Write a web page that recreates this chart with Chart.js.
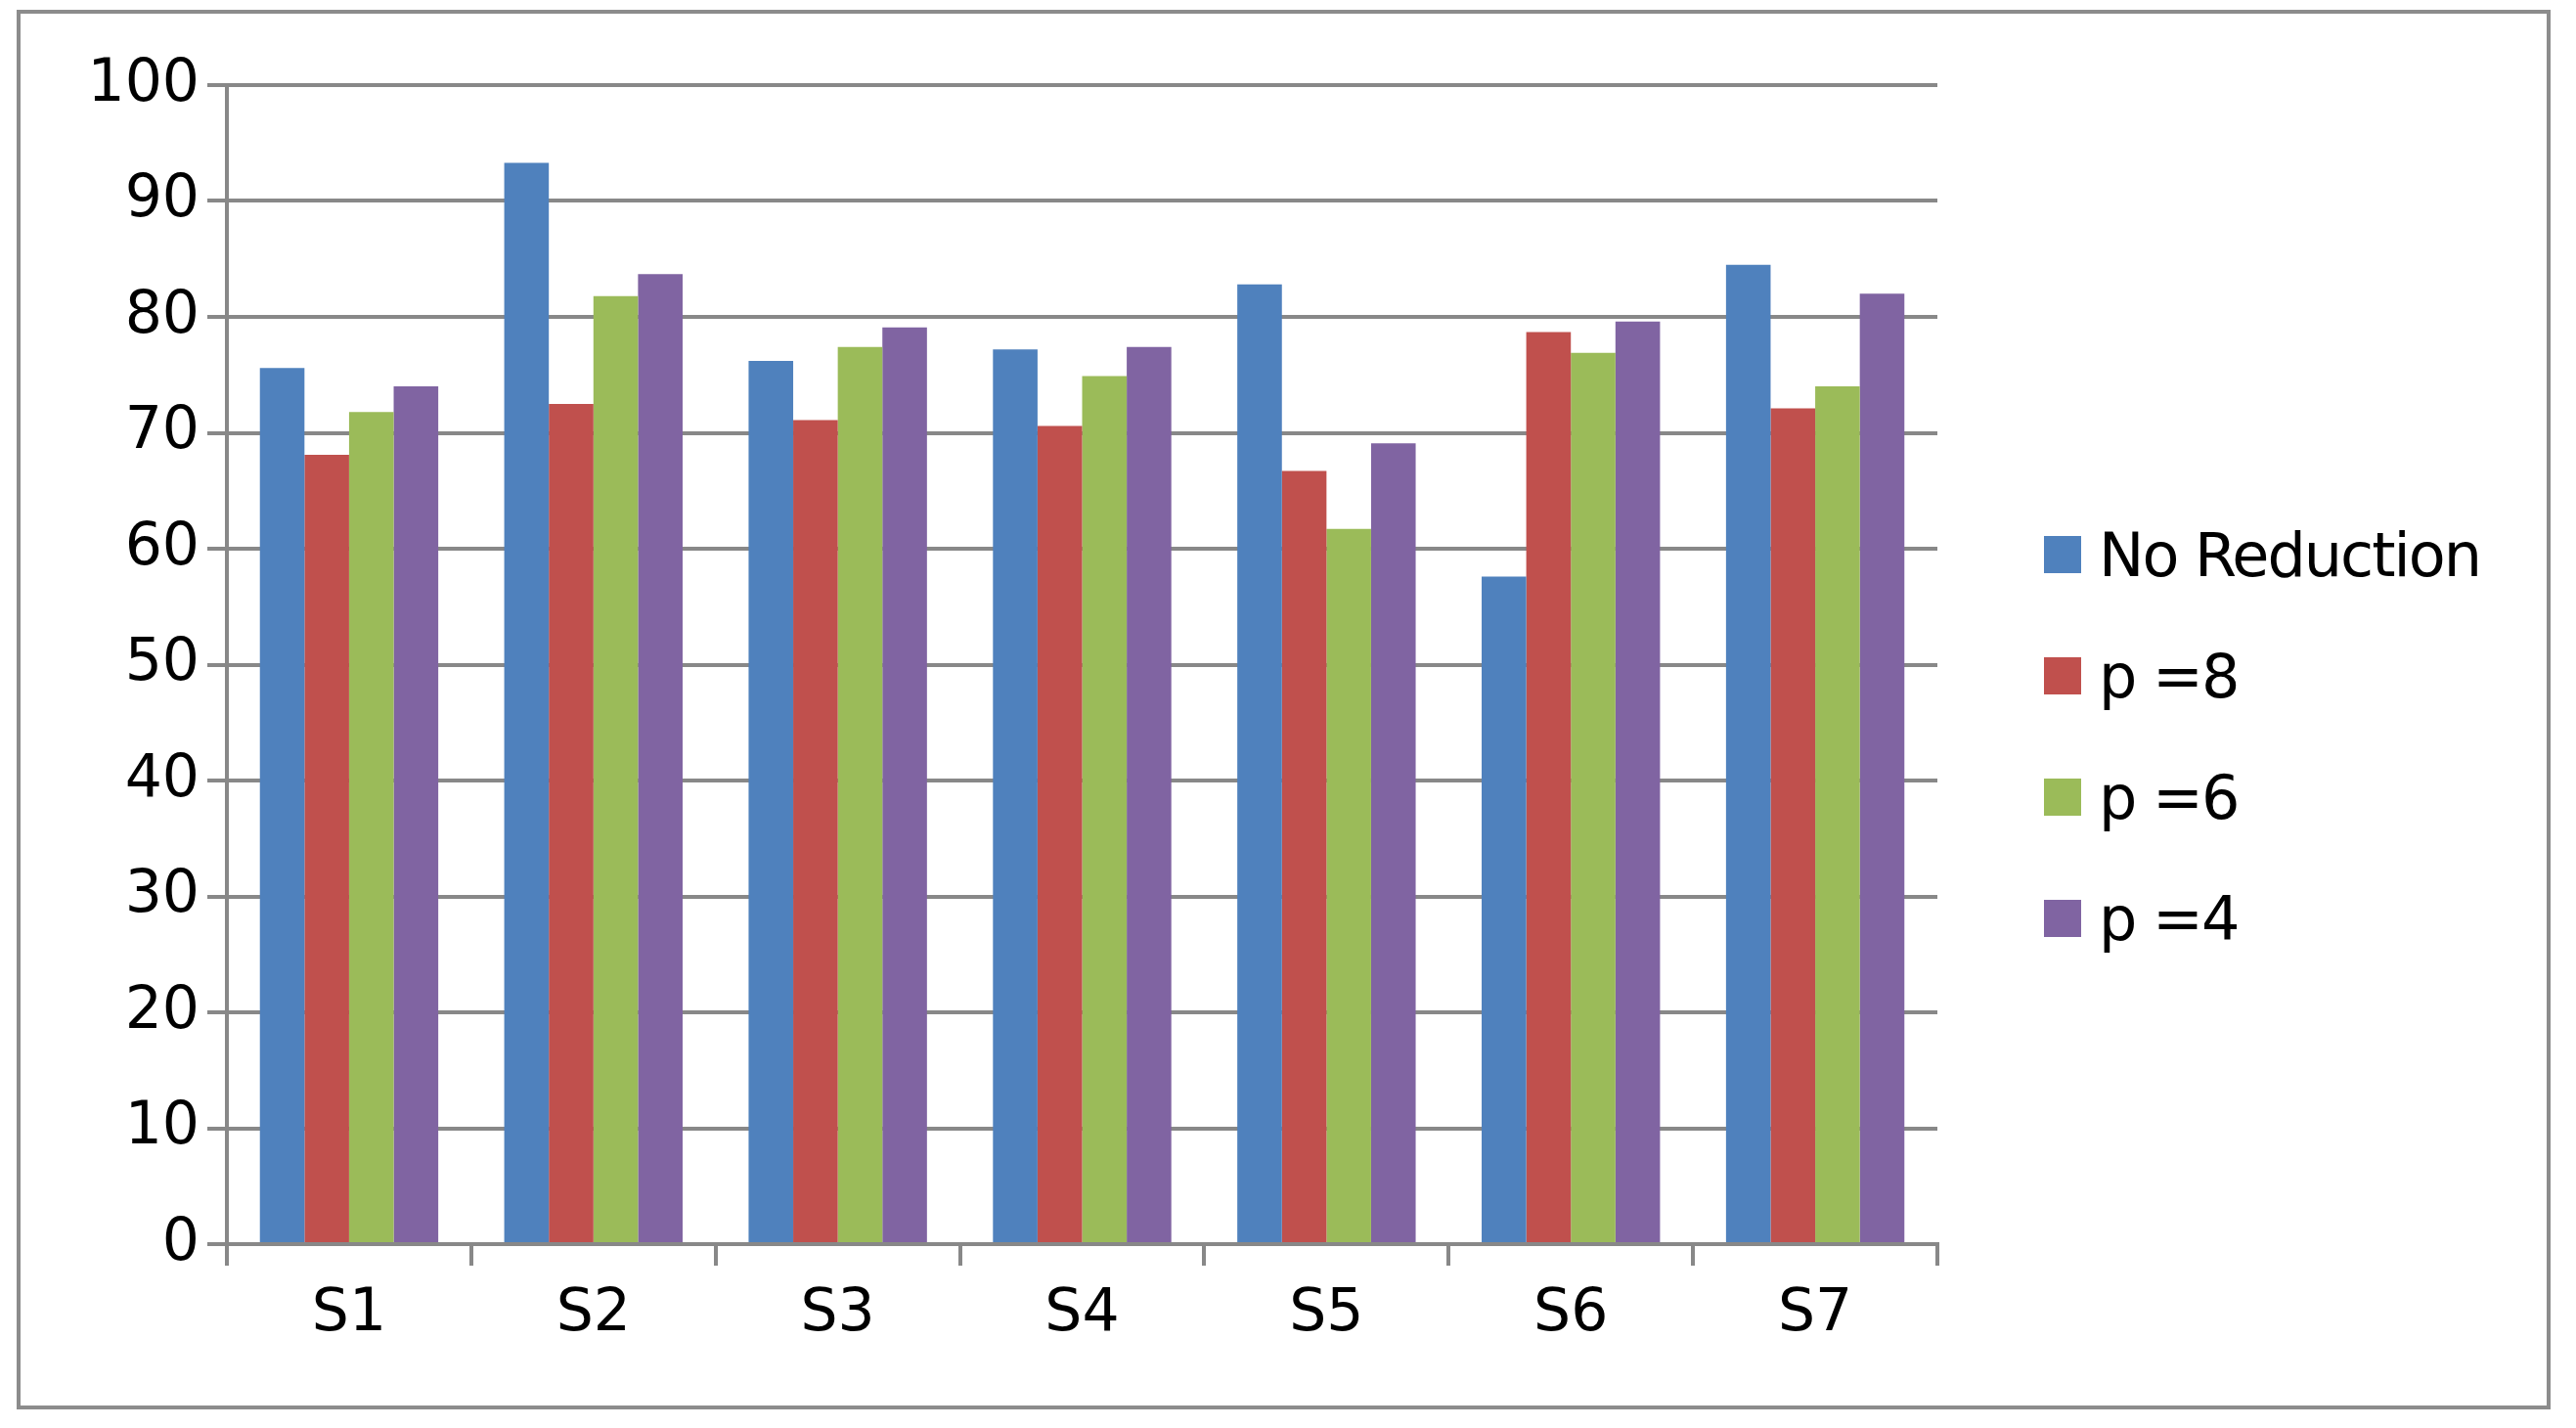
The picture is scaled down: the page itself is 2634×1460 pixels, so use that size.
<!DOCTYPE html>
<html><head><meta charset="utf-8">
<script src="https://cdn.jsdelivr.net/npm/chart.js@4"></script>
<style>
body{margin:0;background:#fff;width:2634px;height:1460px;overflow:hidden;position:relative;font-family:"DejaVu Sans",sans-serif}
#frame{position:absolute;left:17px;top:10px;width:2591px;height:1431px;border:4px solid #8c8c8c;box-sizing:border-box}
canvas{position:absolute;left:0;top:0}
#legend{position:absolute;left:2090px;top:505px}
.it{display:flex;align-items:center;height:124px;font-size:62px;color:#000;letter-spacing:-2px}
.sw{width:38px;height:38px;margin-right:18px}
</style></head><body>
<div id="frame"></div>
<canvas id="c" width="2634" height="1460"></canvas>
<div id="legend"></div>
<script>
const categories=["S1","S2","S3","S4","S5","S6","S7"];
const seriesNames=["No Reduction","p =8","p =6","p =4"];
const noReduction=[75.6,93.3,76.2,77.2,82.8,57.6,84.5];
const p8=[68.1,72.5,71.1,70.6,66.7,78.7,72.1];
const p6=[71.8,81.8,77.4,74.9,61.7,76.9,74.0];
const p4=[74.0,83.7,79.1,77.4,69.1,79.6,82.0];
const colors=["#4f81bd","#c0504d","#9bbb59","#8064a2"];
const yTicks=[0,10,20,30,40,50,60,70,80,90,100];
const vals=[noReduction,p8,p6,p4];
const lg=document.getElementById('legend');
seriesNames.forEach((n,i)=>{const d=document.createElement('div');d.className='it';d.innerHTML='<div class="sw" style="background:'+colors[i]+'"></div><span></span>';d.querySelector('span').textContent=n;lg.appendChild(d);});
new Chart(document.getElementById('c'),{type:'bar',
data:{labels:categories,datasets:vals.map((v,i)=>({label:seriesNames[i],data:v,backgroundColor:colors[i],barPercentage:1,categoryPercentage:0.73}))},
options:{responsive:false,devicePixelRatio:1,animation:false,
layout:{padding:{left:32,top:87,right:653,bottom:48}},
plugins:{legend:{display:false},tooltip:{enabled:false}},
scales:{
x:{grid:{offset:true,drawOnChartArea:false,color:'#888',lineWidth:4,tickLength:22},border:{color:'#888',width:4},
ticks:{color:'#000',font:{family:'DejaVu Sans',size:60},padding:14},afterFit:s=>{s.height=140;}},
y:{min:0,max:100,afterBuildTicks:s=>{s.ticks=yTicks.map(v=>({value:v}));},
grid:{color:'#888',lineWidth:4,tickLength:20},border:{color:'#888',width:4},
ticks:{color:'#000',font:{family:'DejaVu Sans',size:60},padding:8},afterFit:s=>{s.width=200;}}
}}});
</script></body></html>
